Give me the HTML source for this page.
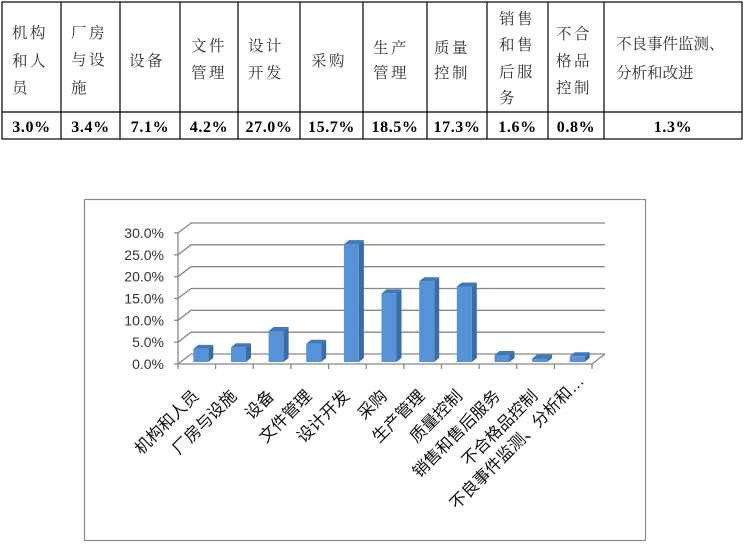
<!DOCTYPE html>
<html>
<head>
<meta charset="utf-8">
<style>
html,body{margin:0;padding:0;background:#fff;}
body{width:744px;height:545px;overflow:hidden;}
svg{display:block;}
.hd{font-family:"Liberation Serif","Noto Serif CJK SC",serif;font-size:15.5px;fill:#333;letter-spacing:2.5px;}
.hd2{font-family:"Liberation Serif","Noto Serif CJK SC",serif;font-size:15.5px;fill:#333;}
.val{font-family:"Liberation Serif",serif;font-weight:bold;font-size:16px;fill:#000;letter-spacing:0.6px;}
.yl{font-family:"Liberation Sans",sans-serif;font-size:14px;fill:#333;}
.xl{font-family:"Liberation Sans","Noto Sans CJK SC",sans-serif;font-size:16.5px;fill:#111;}
</style>
</head>
<body>
<svg width="744" height="545" viewBox="0 0 744 545" xmlns="http://www.w3.org/2000/svg">
<g stroke="#000" stroke-width="1.2" fill="none">
<rect x="2" y="2" width="740" height="137"/>
<line x1="2" y1="112" x2="742" y2="112"/>
<line x1="61" y1="2" x2="61" y2="139"/>
<line x1="120" y1="2" x2="120" y2="139"/>
<line x1="180" y1="2" x2="180" y2="139"/>
<line x1="238" y1="2" x2="238" y2="139"/>
<line x1="300" y1="2" x2="300" y2="139"/>
<line x1="363" y1="2" x2="363" y2="139"/>
<line x1="427" y1="2" x2="427" y2="139"/>
<line x1="487" y1="2" x2="487" y2="139"/>
<line x1="548" y1="2" x2="548" y2="139"/>
<line x1="604" y1="2" x2="604" y2="139"/>
</g>
<g class="hd">
<text x="12" y="38">机构</text><text x="12" y="66">和人</text><text x="12" y="93">员</text>
<text x="71" y="38">厂房</text><text x="71" y="65">与设</text><text x="71" y="93">施</text>
<text x="129" y="66">设备</text>
<text x="191" y="51">文件</text><text x="191" y="78">管理</text>
<text x="248" y="51">设计</text><text x="248" y="78">开发</text>
<text x="311" y="66">采购</text>
<text x="373" y="53">生产</text><text x="373" y="78">管理</text>
<text x="434" y="53">质量</text><text x="434" y="78">控制</text>
<text x="499" y="24">销售</text><text x="499" y="50">和售</text><text x="499" y="77">后服</text><text x="499" y="103">务</text>
<text x="556" y="39">不合</text><text x="556" y="66">格品</text><text x="556" y="93">控制</text>
</g>
<g class="hd2">
<text x="616" y="49">不良事件监测、</text>
<text x="616" y="78">分析和改进</text>
</g>
<g class="val" text-anchor="middle">
<text x="31.5" y="132">3.0%</text>
<text x="90.5" y="132">3.4%</text>
<text x="150" y="132">7.1%</text>
<text x="209" y="132">4.2%</text>
<text x="269" y="132">27.0%</text>
<text x="331.5" y="132">15.7%</text>
<text x="395" y="132">18.5%</text>
<text x="457" y="132">17.3%</text>
<text x="517.5" y="132">1.6%</text>
<text x="576" y="132">0.8%</text>
<text x="673" y="132">1.3%</text>
</g>

<rect x="84.5" y="199.5" width="561" height="341" fill="#fff" stroke="#8a8a8a" stroke-width="1.2"/>

<g stroke="#888" stroke-width="1.3" fill="none">
<polyline points="178,364 191,354 605,354"/>
<polyline points="178,342.2 191,332.2 605,332.2"/>
<polyline points="178,320.3 191,310.3 605,310.3"/>
<polyline points="178,298.5 191,288.5 605,288.5"/>
<polyline points="178,276.7 191,266.7 605,266.7"/>
<polyline points="178,254.8 191,244.8 605,244.8"/>
<polyline points="178,233 191,223 605,223"/>
<polyline points="178,364 592,364 605,354"/>
<line x1="178" y1="233" x2="178" y2="364"/>
<line x1="174" y1="364" x2="178" y2="364"/>
<line x1="174" y1="342.2" x2="178" y2="342.2"/>
<line x1="174" y1="320.3" x2="178" y2="320.3"/>
<line x1="174" y1="298.5" x2="178" y2="298.5"/>
<line x1="174" y1="276.7" x2="178" y2="276.7"/>
<line x1="174" y1="254.8" x2="178" y2="254.8"/>
<line x1="174" y1="233" x2="178" y2="233"/>
<line x1="178" y1="364" x2="178" y2="369"/>
<line x1="215.6" y1="364" x2="215.6" y2="369"/>
<line x1="253.3" y1="364" x2="253.3" y2="369"/>
<line x1="290.9" y1="364" x2="290.9" y2="369"/>
<line x1="328.6" y1="364" x2="328.6" y2="369"/>
<line x1="366.2" y1="364" x2="366.2" y2="369"/>
<line x1="403.8" y1="364" x2="403.8" y2="369"/>
<line x1="441.5" y1="364" x2="441.5" y2="369"/>
<line x1="479.1" y1="364" x2="479.1" y2="369"/>
<line x1="516.8" y1="364" x2="516.8" y2="369"/>
<line x1="554.4" y1="364" x2="554.4" y2="369"/>
<line x1="592" y1="364" x2="592" y2="369"/>
</g>

<g class="yl" text-anchor="end">
<text x="164" y="369">0.0%</text>
<text x="164" y="347.2">5.0%</text>
<text x="164" y="325.3">10.0%</text>
<text x="164" y="303.5">15.0%</text>
<text x="164" y="281.7">20.0%</text>
<text x="164" y="259.8">25.0%</text>
<text x="164" y="238">30.0%</text>
</g>

<g>
<polygon points="208.3,362 213.3,358 213.3,344.9 208.3,348.9" fill="#3a6ca6"/>
<polygon points="193.3,348.9 208.3,348.9 213.3,344.9 198.3,344.9" fill="#4378b8"/>
<rect x="193.3" y="348.9" width="15" height="13.1" fill="#5593d6"/>

<polygon points="246,362 251,358 251,343.2 246,347.2" fill="#3a6ca6"/>
<polygon points="231,347.2 246,347.2 251,343.2 236,343.2" fill="#4378b8"/>
<rect x="231" y="347.2" width="15" height="14.8" fill="#5593d6"/>

<polygon points="283.6,362 288.6,358 288.6,327 283.6,331" fill="#3a6ca6"/>
<polygon points="268.6,331 283.6,331 288.6,327 273.6,327" fill="#4378b8"/>
<rect x="268.6" y="331" width="15" height="31" fill="#5593d6"/>

<polygon points="321.2,362 326.2,358 326.2,339.7 321.2,343.7" fill="#3a6ca6"/>
<polygon points="306.2,343.7 321.2,343.7 326.2,339.7 311.2,339.7" fill="#4378b8"/>
<rect x="306.2" y="343.7" width="15" height="18.3" fill="#5593d6"/>

<polygon points="358.9,362 363.9,358 363.9,240.1 358.9,244.1" fill="#3a6ca6"/>
<polygon points="343.9,244.1 358.9,244.1 363.9,240.1 348.9,240.1" fill="#4378b8"/>
<rect x="343.9" y="244.1" width="15" height="117.9" fill="#5593d6"/>

<polygon points="396.5,362 401.5,358 401.5,289.4 396.5,293.4" fill="#3a6ca6"/>
<polygon points="381.5,293.4 396.5,293.4 401.5,289.4 386.5,289.4" fill="#4378b8"/>
<rect x="381.5" y="293.4" width="15" height="68.6" fill="#5593d6"/>

<polygon points="434.2,362 439.2,358 439.2,277.2 434.2,281.2" fill="#3a6ca6"/>
<polygon points="419.2,281.2 434.2,281.2 439.2,277.2 424.2,277.2" fill="#4378b8"/>
<rect x="419.2" y="281.2" width="15" height="80.8" fill="#5593d6"/>

<polygon points="471.8,362 476.8,358 476.8,282.5 471.8,286.5" fill="#3a6ca6"/>
<polygon points="456.8,286.5 471.8,286.5 476.8,282.5 461.8,282.5" fill="#4378b8"/>
<rect x="456.8" y="286.5" width="15" height="75.5" fill="#5593d6"/>

<polygon points="509.5,362 514.5,358 514.5,351 509.5,355" fill="#3a6ca6"/>
<polygon points="494.5,355 509.5,355 514.5,351 499.5,351" fill="#4378b8"/>
<rect x="494.5" y="355" width="15" height="7" fill="#5593d6"/>

<polygon points="547.1,362 552.1,358 552.1,354.5 547.1,358.5" fill="#3a6ca6"/>
<polygon points="532.1,358.5 547.1,358.5 552.1,354.5 537.1,354.5" fill="#4378b8"/>
<rect x="532.1" y="358.5" width="15" height="3.5" fill="#5593d6"/>

<polygon points="584.7,362 589.7,358 589.7,352.3 584.7,356.3" fill="#3a6ca6"/>
<polygon points="569.7,356.3 584.7,356.3 589.7,352.3 574.7,352.3" fill="#4378b8"/>
<rect x="569.7" y="356.3" width="15" height="5.7" fill="#5593d6"/>
</g>

<g class="xl" text-anchor="end">
<text transform="translate(199.8,397) rotate(-45)">机构和人员</text>
<text transform="translate(237.5,397) rotate(-45)">厂房与设施</text>
<text transform="translate(275.1,397) rotate(-45)">设备</text>
<text transform="translate(312.7,397) rotate(-45)">文件管理</text>
<text transform="translate(350.4,397) rotate(-45)">设计开发</text>
<text transform="translate(388,397) rotate(-45)">采购</text>
<text transform="translate(425.7,397) rotate(-45)">生产管理</text>
<text transform="translate(463.3,397) rotate(-45)">质量控制</text>
<text transform="translate(501,397) rotate(-45)">销售和售后服务</text>
<text transform="translate(538.6,397) rotate(-45)">不合格品控制</text>
<text transform="translate(585,382) rotate(-45)">不良事件监测、分析和…</text>
</g>
</svg>
</body>
</html>
